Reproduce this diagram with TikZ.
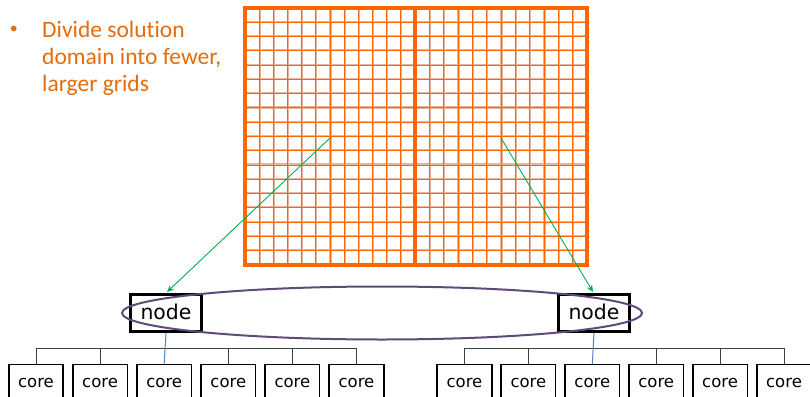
\documentclass[tikz,border=0pt]{standalone}
\usepackage{fontspec}
\newfontfamily\dejavu{DejaVu Sans}
\newfontfamily\carlito[Ligatures=NoCommon]{Carlito}
\usetikzlibrary{arrows.meta}
\definecolor{gridorange}{HTML}{FF6600}
\definecolor{gridtan}{HTML}{EDB595}
\definecolor{textorange}{HTML}{E46C0A}
\definecolor{linkgreen}{HTML}{00B050}
\definecolor{ringpurple}{HTML}{604A7B}
\definecolor{linkblue}{HTML}{4F81BD}
\definecolor{treegray}{HTML}{404040}
\tikzset{
  tanline/.style={gridtan, line width=2.2pt},
  orangeline/.style={gridorange, line width=1pt},
  frameline/.style={gridorange, line width=4.5pt},
  bullettext/.style={anchor=base west, inner sep=0pt, text=textorange, font=\fontsize{23.5}{27}\carlito},
  nodebox/.style={draw=black, line width=3pt, minimum width=71pt, minimum height=37pt, inner sep=0pt,
    text height=15pt, text depth=2pt, font=\fontsize{20.4}{24}\dejavu},
  corebox/.style={draw=black, line width=1.6pt, anchor=north, minimum width=54.5pt, minimum height=40pt, inner sep=0pt,
    text height=9pt, text depth=3pt, font=\fontsize{16.5}{20}\dejavu},
  treeline/.style={treegray, line width=0.9pt},
  bluelink/.style={linkblue, line width=1pt},
  greenarrow/.style={linkgreen, line width=0.9pt, -{Stealth[length=7pt, width=6pt]}},
  ring/.style={ringpurple, line width=2pt},
}
\begin{document}
\begin{tikzpicture}[x=1pt, y=-1pt]
\useasboundingbox (0,0) rectangle (810,396);
\clip (0,0) rectangle (810,396);

% bullet point text
\node[bullettext, font=\fontsize{16}{20}\carlito] (bul) at (9.6,34) {•};
\node[bullettext] (t1) at (42,37.5) {Divide solution};
\node[bullettext] (t2) at (42,64.5) {domain into fewer,};
\node[bullettext] (t3) at (42,91.5) {larger grids};

% fine grid: two halves of 12 columns, 18 rows, tan halo under orange lines
\foreach \i in {1,...,11} {
  \draw[tanline] ({245+\i*170/12+0.5},8) -- ++(0,257);
  \draw[tanline] ({415+\i*172/12+0.5},8) -- ++(0,257);
}
\foreach \j in {1,...,17} {
  \draw[tanline] (245,{8+\j*257/18-0.5}) -- (587,{8+\j*257/18-0.5});
}
\foreach \i in {1,...,11} {
  \draw[orangeline] ({245+\i*170/12},8) -- ++(0,257);
  \draw[orangeline] ({415+\i*172/12},8) -- ++(0,257);
}
\foreach \j in {1,...,17} {
  \draw[orangeline] (245,{8+\j*257/18}) -- (587,{8+\j*257/18});
}
% thick frame and split
\draw[frameline] (245,8) rectangle (587,265);
\draw[gridorange, line width=4pt] (415,8) -- (415,265);

% compute nodes
\node[nodebox] (n1) at (166,313) {node};
\node[nodebox] (n2) at (594,313) {node};

% cores
\foreach \k in {1,...,6} {
  \node[corebox] (c\k) at ({36+(\k-1)*64.1},363.8) {core};
  \node[corebox] (d\k) at ({464.5+(\k-1)*63.9},363.8) {core};
}

% tree connectors
\coordinate (barL) at (0,348);
\draw[treeline] (c1.north) -- (c1.north |- barL) -- (c6.north |- barL) -- (c6.north);
\draw[treeline] (d1.north) -- (d1.north |- barL) -- (d6.north |- barL) -- (d6.north);
\foreach \k in {2,4,5} {
  \draw[treeline] (c\k.north) -- (c\k.north |- barL);
  \draw[treeline] (d\k.north) -- (d\k.north |- barL);
}
\draw[bluelink] (n1.south) -- (c3.north);
\draw[bluelink] (n2.south) -- (d3.north);

% grid-to-node arrows
\coordinate (g1) at (330,138);
\coordinate (g2) at (501,138);
\draw[greenarrow] (g1) -- ([xshift=1pt,yshift=1pt]n1.north);
\draw[greenarrow] (g2) -- ([xshift=-1pt,yshift=1pt]n2.north);

% ring grouping both nodes
\draw[ring] (382,313) ellipse [x radius=260, y radius=26.5];
\end{tikzpicture}
\end{document}
